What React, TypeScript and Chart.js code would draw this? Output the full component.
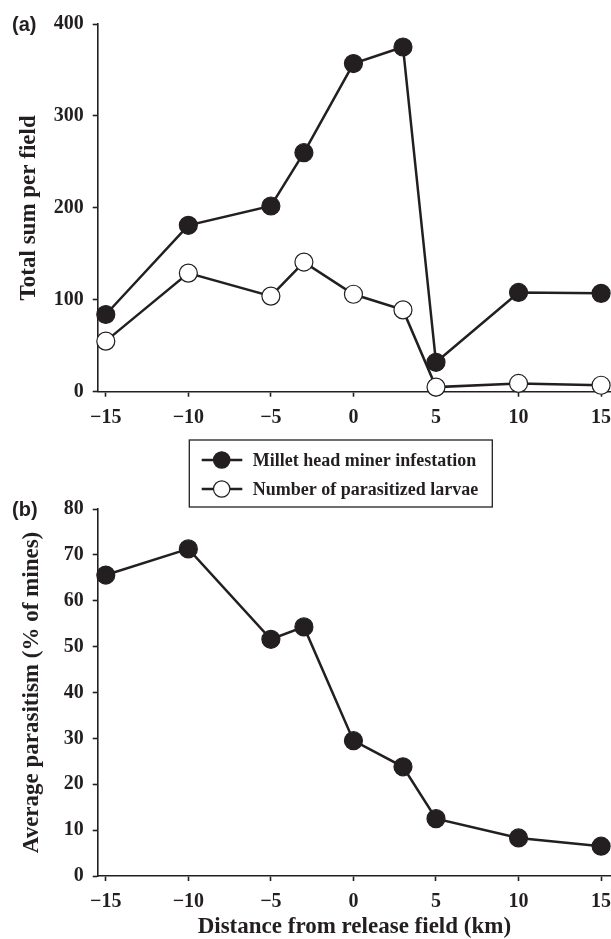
import React, { useEffect, useRef } from 'react';
import { Chart, registerables } from 'chart.js';

Chart.register(...registerables);

// ---- data ----
const distances = [-15, -10, -5, -3, 0, 3, 5, 10, 15];
const infestation = [84, 181, 202, 260, 357, 375, 32, 108, 107];
const parasitized = [55, 129, 104, 141, 106, 89, 5, 9, 7];
const parasitism = [65.6, 71.3, 51.6, 54.3, 29.5, 23.8, 12.5, 8.3, 6.5];
const xTicks = [-15, -10, -5, 0, 5, 10, 15];
const yTicksA = [0, 100, 200, 300, 400];
const yTicksB = [0, 10, 20, 30, 40, 50, 60, 70, 80];
const seriesLabels = ['Millet head miner infestation', 'Number of parasitized larvae'];
const panelLabels = ['(a)', '(b)'];
const yTitleA = 'Total sum per field';
const yTitleB = 'Average parasitism (% of mines)';
const xTitle = 'Distance from release field (km)';

// ---- style ----
const INK = '#231f20';
const SERIF = '"Liberation Serif", "Times New Roman", serif';
const SANS = '"Liberation Sans", Arial, sans-serif';
const W = 611;
const HA = 510;
const TOPB = 495;
const HB = 939 - TOPB;

const fmt = (v: number) => (v < 0 ? '\u2212' + Math.abs(v) : String(v));

function xScale(height: number, withTitle: boolean) {
  return {
    type: 'linear',
    min: -15.49,
    max: 15.6,
    afterBuildTicks: (s: any) => {
      s.ticks = xTicks.map((v) => ({ value: v }));
    },
    afterFit: (s: any) => {
      s.height = height;
      s.paddingLeft = 0;
      s.paddingRight = 0;
    },
    grid: {
      display: true,
      drawOnChartArea: false,
      drawTicks: true,
      tickLength: 5,
      tickWidth: 1.6,
      tickColor: INK,
    },
    border: { display: true, color: INK, width: 1.6 },
    ticks: {
      color: INK,
      font: { family: SERIF, size: 20, weight: 'bold' },
      padding: 9,
      maxRotation: 0,
      autoSkip: false,
      callback: (v: any) => fmt(Number(v)),
    },
    title: {
      display: withTitle,
      text: xTitle,
      color: INK,
      font: { family: SERIF, size: 23, weight: 'bold', lineHeight: 1 },
      padding: { top: 0, bottom: 0 },
    },
  };
}

function yScale(width: number, max: number, ticks: number[], title: string) {
  return {
    type: 'linear',
    min: 0,
    max,
    afterBuildTicks: (s: any) => {
      s.ticks = ticks.map((v) => ({ value: v }));
    },
    afterFit: (s: any) => {
      s.width = width;
      s.paddingTop = 0;
      s.paddingBottom = 0;
    },
    grid: {
      display: true,
      drawOnChartArea: false,
      drawTicks: true,
      tickLength: 5,
      tickWidth: 1.6,
      tickColor: INK,
    },
    border: { display: true, color: INK, width: 1.6 },
    ticks: {
      color: INK,
      font: { family: SERIF, size: 20, weight: 'bold' },
      padding: 9,
      autoSkip: false,
      callback: (v: any) => fmt(Number(v)),
    },
    title: {
      display: true,
      text: title,
      color: INK,
      font: { family: SERIF, size: 23, weight: 'bold', lineHeight: 1 },
      padding: { top: 0, bottom: 0 },
    },
  };
}

const panelLabel = {
  id: 'panelLabel',
  afterDraw(chart: any, _args: any, opts: any) {
    const ctx = chart.ctx;
    ctx.save();
    ctx.fillStyle = INK;
    ctx.font = 'bold 20px ' + SANS;
    ctx.textAlign = 'left';
    ctx.textBaseline = 'middle';
    ctx.fillText(opts.text, opts.x, chart.chartArea.top + opts.dy);
    ctx.restore();
  },
};

const boxLegend = {
  id: 'boxLegend',
  afterDraw(chart: any) {
    const ctx = chart.ctx;
    const ca = chart.chartArea;
    const left = 189.3;
    const top = ca.bottom + 48.3;
    const w = 303;
    const h = 67;
    ctx.save();
    ctx.strokeStyle = INK;
    ctx.lineWidth = 1.3;
    ctx.strokeRect(left, top, w, h);
    chart.data.datasets.forEach((ds: any, i: number) => {
      const cy = top + 20 + i * 29;
      ctx.strokeStyle = INK;
      ctx.lineWidth = 2.5;
      ctx.beginPath();
      ctx.moveTo(left + 12.4, cy);
      ctx.lineTo(left + 53, cy);
      ctx.stroke();
      ctx.beginPath();
      ctx.arc(left + 32.4, cy, 8.2, 0, Math.PI * 2);
      ctx.fillStyle = ds.pointBackgroundColor;
      ctx.fill();
      ctx.lineWidth = ds.pointBorderWidth;
      ctx.strokeStyle = ds.pointBorderColor;
      ctx.stroke();
      ctx.fillStyle = INK;
      ctx.font = 'bold 18px ' + SERIF;
      ctx.textAlign = 'left';
      ctx.textBaseline = 'middle';
      ctx.fillText(ds.label, left + 63.4, cy + 1);
    });
    ctx.restore();
  },
};

function pts(ys: number[]) {
  return distances.map((x, i) => ({ x, y: ys[i] }));
}

function series(label: string, ys: number[], fill: string) {
  return {
    label,
    data: pts(ys),
    borderColor: INK,
    borderWidth: 2.5,
    pointRadius: 9,
    pointHoverRadius: 9,
    pointBackgroundColor: fill,
    pointBorderColor: INK,
    pointBorderWidth: 1.2,
    tension: 0,
    fill: false,
    clip: false,
  };
}

export default function App() {
  const refA = useRef<HTMLCanvasElement | null>(null);
  const refB = useRef<HTMLCanvasElement | null>(null);

  useEffect(() => {
    const chartA = new Chart(refA.current as HTMLCanvasElement, {
      type: 'line',
      data: {
        datasets: [
          series(seriesLabels[0], infestation, INK),
          series(seriesLabels[1], parasitized, '#ffffff'),
        ],
      },
      options: {
        animation: false,
        responsive: false,
        devicePixelRatio: 1,
        layout: { autoPadding: false, padding: { top: 24, left: 17.5, right: 0, bottom: 0 } },
        scales: {
          x: xScale(HA - 391.7, false),
          y: yScale(97.7 - 17.5, 400, yTicksA, yTitleA),
        },
        plugins: {
          legend: { display: false },
          tooltip: { enabled: false },
          panelLabel: { text: panelLabels[0], x: 12, dy: 1 },
        },
      } as any,
      plugins: [panelLabel, boxLegend],
    } as any);

    const chartB = new Chart(refB.current as HTMLCanvasElement, {
      type: 'line',
      data: {
        datasets: [series(seriesLabels[0], parasitism, INK)],
      },
      options: {
        animation: false,
        responsive: false,
        devicePixelRatio: 1,
        layout: { autoPadding: false, padding: { top: 14, left: 20.5, right: 0, bottom: 0 } },
        scales: {
          x: xScale(HB - (876 - TOPB), true),
          y: yScale(97.7 - 20.5, 80, yTicksB, yTitleB),
        },
        plugins: {
          legend: { display: false },
          tooltip: { enabled: false },
          panelLabel: { text: panelLabels[1], x: 12, dy: 1 },
        },
      } as any,
      plugins: [panelLabel],
    } as any);

    return () => {
      chartA.destroy();
      chartB.destroy();
    };
  }, []);

  return (
    <div style={{ position: 'absolute', left: 0, top: 0, width: W, height: 939, background: '#ffffff', overflow: 'hidden' }}>
      <canvas ref={refB} width={W} height={HB} style={{ position: 'absolute', left: 0, top: TOPB, width: W, height: HB }} />
      <canvas ref={refA} width={W} height={HA} style={{ position: 'absolute', left: 0, top: 0, width: W, height: HA }} />
    </div>
  );
}
